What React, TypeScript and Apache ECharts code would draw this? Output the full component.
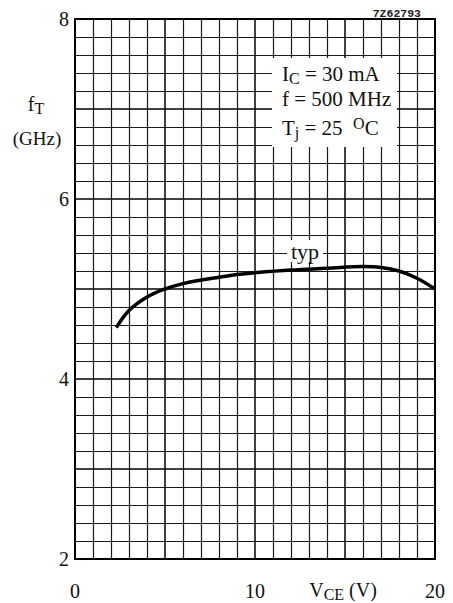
import React, { useEffect, useRef } from "react";
import * as echarts from "echarts";

const vce = [2.3, 3, 4, 5, 6, 7, 8, 9, 10, 12, 14, 16, 17, 18, 19, 20];
const ft = [4.57, 4.76, 4.91, 5.0, 5.06, 5.1, 5.13, 5.16, 5.18, 5.21, 5.23, 5.25, 5.24, 5.2, 5.12, 5.0];
const xTickLabels = [0, 10, 20];
const yTickLabels = [2, 4, 6, 8];
const conditions = ["I{sub|C} = 30 mA", "f = 500 MHz", "T{sub|j} = 25  {sup|O}C"];

const SERIF = "'Liberation Serif', 'DejaVu Serif', serif";

export default function App() {
  const ref = useRef<HTMLDivElement>(null);
  useEffect(() => {
    const chart = echarts.init(ref.current!, null, { renderer: "svg" });
    const minor = { color: "#1a1a1a", width: 1.2 };
    const major = { color: "#000", width: 1.5 };
    const subStyle = { fontSize: 16, fontFamily: SERIF, fill: "#111", verticalAlign: "bottom", padding: [9, 0, 0, 0] };
    chart.setOption({
      animation: false,
      backgroundColor: "#fff",
      grid: { left: 75, right: 18, top: 19, bottom: 44, show: true, borderColor: "#000", borderWidth: 2, backgroundColor: "transparent" },
      xAxis: {
        type: "value",
        min: 0,
        max: 20,
        interval: 5,
        axisLine: { show: false },
        axisTick: { show: false },
        minorTick: { show: false, splitNumber: 5 },
        splitLine: { show: true, lineStyle: major },
        minorSplitLine: { show: true, lineStyle: minor },
        axisLabel: {
          margin: 22,
          fontFamily: SERIF,
          fontSize: 20,
          color: "#111",
          formatter: (v: number) => (xTickLabels.includes(v) ? String(v) : ""),
        },
      },
      yAxis: {
        type: "value",
        min: 2,
        max: 8,
        interval: 1,
        axisLine: { show: false },
        axisTick: { show: false },
        minorTick: { show: false, splitNumber: 5 },
        splitLine: { show: true, lineStyle: major },
        minorSplitLine: { show: true, lineStyle: minor },
        axisLabel: {
          margin: 6,
          fontFamily: SERIF,
          fontSize: 20,
          color: "#111",
          formatter: (v: number) => (yTickLabels.includes(v) ? String(v) : ""),
        },
      },
      series: [
        {
          type: "line",
          data: vce.map((x, i) => [x, ft[i]]),
          smooth: 0.4,
          showSymbol: false,
          lineStyle: { color: "#000", width: 3.5 },
          z: 5,
        },
      ],
      graphic: [
        { type: "rect", shape: { x: 272, y: 58, width: 125, height: 89 }, style: { fill: "#fff" }, z: 10 },
        ...conditions.map((t, i) => ({
          type: "text",
          x: 282,
          y: 61 + i * 27,
          z: 11,
          style: {
            text: t,
            fill: "#111",
            font: `21px ${SERIF}`,
            rich: {
              sub: subStyle,
              sup: { fontSize: 16, fontFamily: SERIF, fill: "#111", verticalAlign: "top", padding: [0, 0, 5, 0] },
            },
          },
        })),
        { type: "rect", shape: { x: 287, y: 240, width: 36, height: 22 }, style: { fill: "#fff" }, z: 10 },
        { type: "text", x: 305, y: 251, z: 11, style: { text: "typ", fill: "#111", font: `22px ${SERIF}`, align: "center", verticalAlign: "middle" } },
        { type: "text", x: 421, y: 13, z: 11, style: { text: "7Z62793", fill: "#222", font: `bold 11.5px 'Liberation Mono', 'DejaVu Sans Mono', monospace`, align: "right", verticalAlign: "middle" } },
        {
          type: "text",
          x: 36,
          y: 104,
          style: {
            text: "f{sub|T}",
            fill: "#111",
            font: `20px ${SERIF}`,
            align: "center",
            verticalAlign: "middle",
            rich: { sub: subStyle },
          },
        },
        { type: "text", x: 37, y: 138, style: { text: "(GHz)", fill: "#111", font: `19px ${SERIF}`, align: "center", verticalAlign: "middle" } },
        {
          type: "text",
          x: 343,
          y: 590,
          style: {
            text: "V{sub|CE} (V)",
            fill: "#111",
            font: `20px ${SERIF}`,
            align: "center",
            verticalAlign: "middle",
            rich: { sub: subStyle },
          },
        },
      ],
    });
    return () => chart.dispose();
  }, []);
  return <div ref={ref} style={{ width: 453, height: 603, position: "absolute", left: 0, top: 0 }} />;
}
